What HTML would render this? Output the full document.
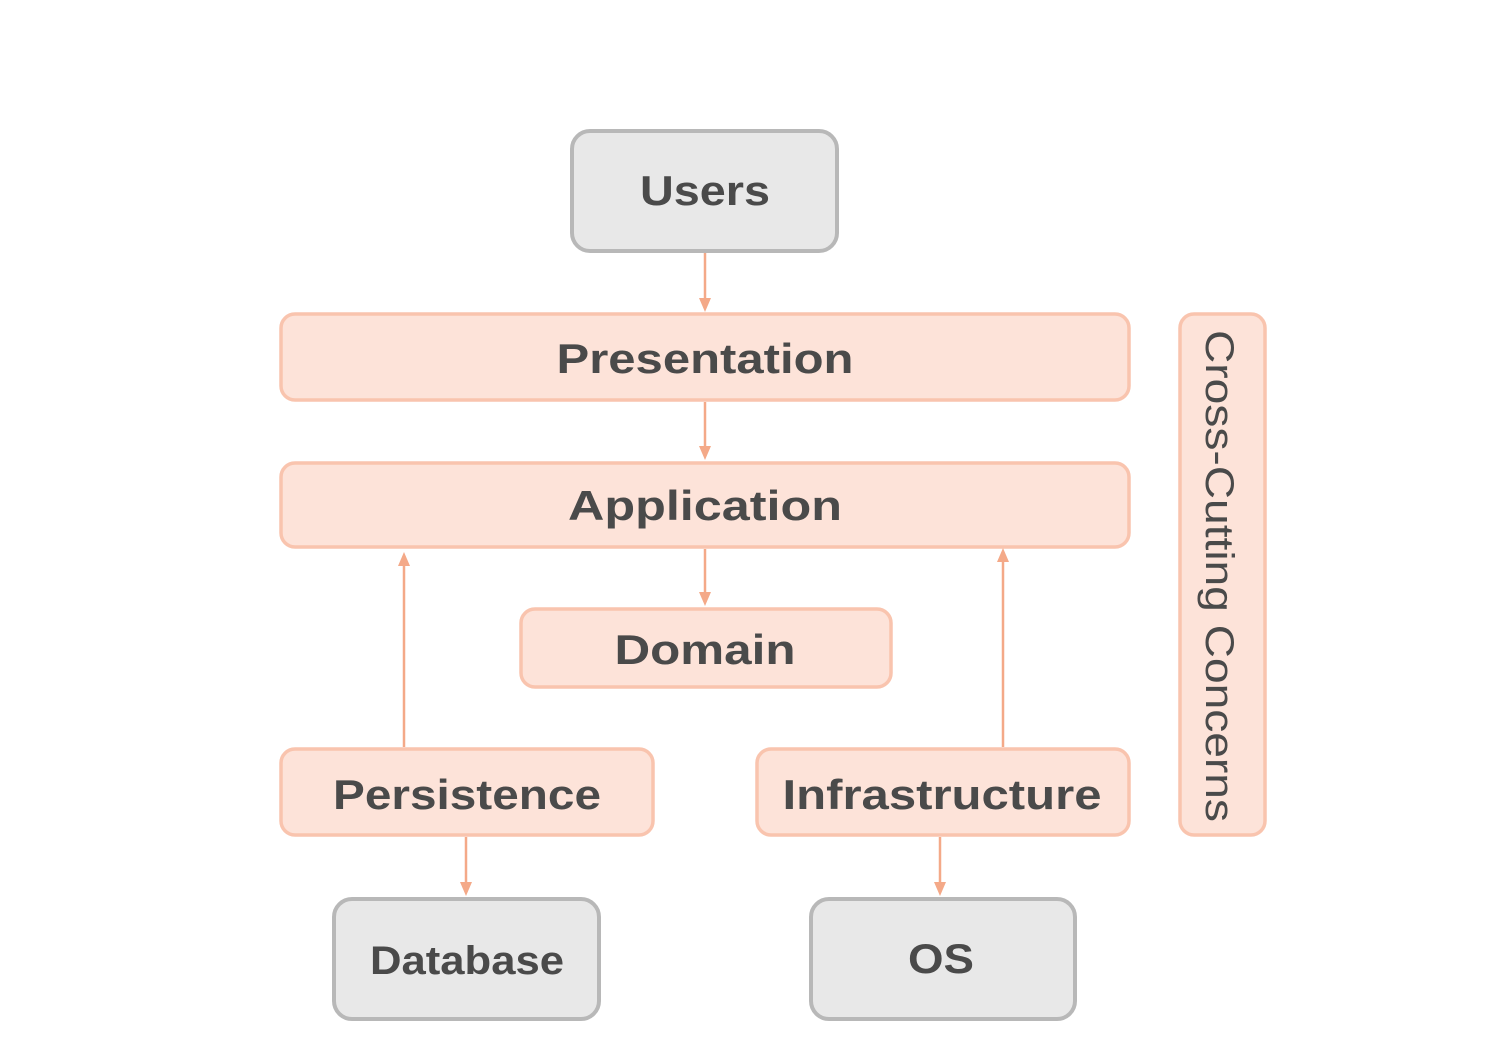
<!DOCTYPE html>
<html><head><style>html,body{margin:0;padding:0;background:#fff}svg{display:block}</style></head>
<body>
<svg width="1490" height="1058" xmlns="http://www.w3.org/2000/svg" font-family="Liberation Sans, sans-serif" font-weight="bold" fill="#4a4a4a">
<defs><marker id="a" markerWidth="10" markerHeight="10" refX="5" refY="8" orient="auto-start-reverse" markerUnits="userSpaceOnUse"><path d="M0,0 L10,0 L5,9 z" fill="#f4a988" transform="rotate(0)"/></marker></defs>
<g stroke="#b8b8b8" stroke-width="4" fill="#e8e8e8">
<rect x="572" y="131" width="265" height="120" rx="18"/>
<rect x="334" y="899" width="265" height="120" rx="18"/>
<rect x="811" y="899" width="264" height="120" rx="18"/>
</g>
<g stroke="#f9c4ae" stroke-width="3.5" fill="#fde3d9">
<rect x="281" y="314" width="848" height="86" rx="14"/>
<rect x="281" y="463" width="848" height="84" rx="14"/>
<rect x="521" y="609" width="370" height="78" rx="14"/>
<rect x="281" y="749" width="372" height="86" rx="14"/>
<rect x="757" y="749" width="372" height="86" rx="14"/>
<rect x="1180" y="314" width="85" height="521" rx="14"/>
</g>
<g stroke="#f4a988" stroke-width="2.5" fill="#f4a988">
<line x1="705" y1="253" x2="705" y2="300"/><path d="M699,298 L711,298 L705,312 z" stroke="none"/>
<line x1="705" y1="402" x2="705" y2="448"/><path d="M699,446 L711,446 L705,460 z" stroke="none"/>
<line x1="705" y1="549" x2="705" y2="594"/><path d="M699,592 L711,592 L705,606 z" stroke="none"/>
<line x1="466" y1="837" x2="466" y2="884"/><path d="M460,882 L472,882 L466,896 z" stroke="none"/>
<line x1="940" y1="837" x2="940" y2="884"/><path d="M934,882 L946,882 L940,896 z" stroke="none"/>
<line x1="404" y1="747" x2="404" y2="564"/><path d="M398,566 L410,566 L404,552 z" stroke="none"/>
<line x1="1003" y1="747" x2="1003" y2="560"/><path d="M997,562 L1009,562 L1003,548 z" stroke="none"/>
</g>
<g font-size="42" text-anchor="middle">
<text x="705" y="205" textLength="130" lengthAdjust="spacingAndGlyphs">Users</text>
<text x="705" y="373" textLength="297" lengthAdjust="spacingAndGlyphs">Presentation</text>
<text x="705" y="520" textLength="274" lengthAdjust="spacingAndGlyphs">Application</text>
<text x="705" y="664" textLength="181" lengthAdjust="spacingAndGlyphs">Domain</text>
<text x="467" y="809" textLength="268" lengthAdjust="spacingAndGlyphs">Persistence</text>
<text x="942" y="809" textLength="319" lengthAdjust="spacingAndGlyphs">Infrastructure</text>
<text x="467" y="974" font-size="40" textLength="194" lengthAdjust="spacingAndGlyphs">Database</text>
<text x="941" y="973" textLength="66" lengthAdjust="spacingAndGlyphs">OS</text>
<text transform="translate(1206,576) rotate(90)" x="0" y="0" font-size="40" font-weight="normal" textLength="492" lengthAdjust="spacingAndGlyphs">Cross-Cutting Concerns</text>
</g>
</svg>
</body></html>
